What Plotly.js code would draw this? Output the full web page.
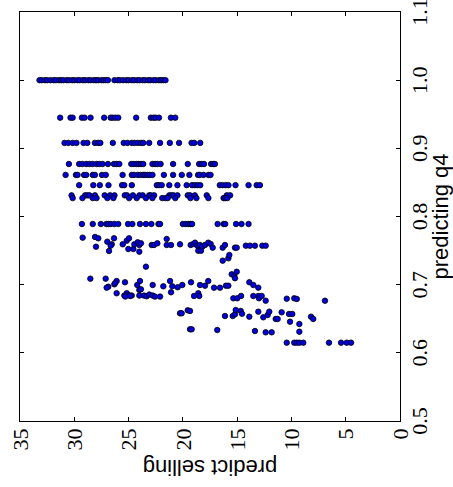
<!DOCTYPE html>
<html>
<head>
<meta charset="utf-8">
<script src="https://cdn.plot.ly/plotly-3.0.1.min.js"></script>
<style>
  html, body { margin: 0; padding: 0; overflow: hidden; background: #fff; width: 453px; height: 487px; }
  #wrap { position: absolute; left: 0; top: 0; width: 487px; height: 453px;
          transform-origin: 0 0; transform: translate(0px, 487px) rotate(-90deg); }
</style>
</head>
<body>
<div id="wrap"><div id="chart" style="width:487px;height:453px;"></div></div>
<script>
// Discrete q4 levels and the "predict selling" values read on each level
const q4Levels = [1.0, 0.945, 0.908, 0.877, 0.861, 0.846, 0.831, 0.827, 0.789];
const selling100 = [33.2, 33.0, 32.7, 32.5, 32.2, 31.9, 31.7, 31.4, 31.2, 31.0, 30.7, 30.5, 30.2, 30.0, 29.7, 29.5, 29.2, 29.0, 28.7, 28.5, 28.2, 28.0, 27.8, 27.5, 27.3, 27.1, 26.9,
                    26.3, 26.0, 25.8, 25.5, 25.2, 25.0, 24.7, 24.5, 24.2, 24.0, 23.7, 23.5, 23.2, 23.0, 22.7, 22.5, 22.2, 22.0, 21.8, 21.6];
const selling0945 = [31.3, 30.35, 30.15, 29.3, 29.05, 28.5, 27.25, 26.65, 26.45, 26.2, 25.95, 24.3, 22.95, 22.7, 22.5, 22.2, 21.1, 20.7];
const selling0908 = [30.9, 30.55, 30.15, 29.8, 29.15, 28.8, 28.1, 27.8, 27.6, 26.45, 25.45, 25.1, 24.7, 24.45, 24.15, 23.85, 23.65, 23.1, 22.1, 21.2, 20.35, 19.2, 18.95, 18.4];
const selling0877 = [30.5, 29.55, 29.25, 28.9, 28.6, 28.3, 27.95, 27.7, 27.4, 26.9, 26.35, 26.1, 25.85, 24.75, 24.5, 24.25, 24.05, 23.85, 23.65, 22.8, 22.55, 22.35, 22.05, 20.9, 19.55, 18.5, 18.25, 18.05, 17.4, 17.2, 17.05];
const selling0861 = [30.8, 29.85, 29.7, 29.1, 28.9, 28.3, 28.1, 27.45, 27.1, 25.55, 24.7, 24.5, 24.15, 23.9, 23.65, 23.5, 23.25, 23.05, 22.8, 21.75, 20.9, 20.1, 19.4, 18.6, 18.45, 18.1, 17.65, 17.45];
const selling0846 = [29.55, 28.25, 27.65, 26.85, 25.6, 25.4, 24.7, 22.4, 22.2, 21.95, 21.25, 20.5, 19.65, 19.15, 18.9, 18.65, 18.4, 16.6, 16.35, 16.05, 15.8, 15.15, 13.95, 13.2, 12.9];
const selling0831 = [30.25, 29.0, 28.8, 28.6, 28.1, 27.2, 26.7, 26.3, 25.35, 25.15, 24.6, 24.0, 23.7, 23.1, 22.95, 22.65, 21.25, 21.05, 20.85, 20.5, 19.55, 19.35, 18.9, 17.8, 15.95, 15.65];
const selling0827 = [30.15, 29.25, 28.3, 27.95, 26.95, 26.4, 24.95, 24.25, 23.4, 22.8, 21.9, 21.6, 21.4, 20.7, 19.3, 18.75, 17.65, 16.25, 16.1, 15.9];
const selling0789 = [29.3, 28.3, 27.55, 27.05, 26.85, 26.65, 26.3, 25.95, 25.05, 24.65, 23.95, 23.4, 22.9, 22.25, 22.1, 20.0, 19.75, 19.5, 19.3, 19.15, 16.8, 16.25, 16.1, 15.1, 14.6, 13.95];
const levelSelling = [selling100, selling0945, selling0908, selling0877, selling0861, selling0846, selling0831, selling0827, selling0789];

// Scattered points below 0.78 (q4, predict selling)
const scatterQ4 = [
  0.769, 0.770, 0.768, 0.7557, 0.763, 0.768, 0.7592, 0.7572, 0.7494, 0.7592, 0.7645, 0.768, 0.7523, 0.7523, 0.7592, 0.7622, 0.7582, 0.7607, 0.7484,
  0.7582, 0.7582, 0.7607, 0.767, 0.7582, 0.7582, 0.7592, 0.7582, 0.7597, 0.7616, 0.7572, 0.7582, 0.7498, 0.7498, 0.7557, 0.7582, 0.7616, 0.7597, 0.7543,
  0.7543, 0.7582, 0.7543, 0.7543, 0.7572, 0.7572, 0.7572, 0.7572, 0.7572,
  0.7264, 0.7352, 0.7387, 0.7435, 0.7152, 0.7132, 0.719, 0.7094,
  0.7088, 0.7088, 0.697, 0.6956, 0.7005, 0.7054, 0.702, 0.7035, 0.6874, 0.684, 0.6874, 0.685, 0.684, 0.6995, 0.7054, 0.6922, 0.684, 0.684, 0.6932,
  0.683, 0.6855, 0.6995, 0.684, 0.6825, 0.6825, 0.6976, 0.7054, 0.6888, 0.6976, 0.6962, 0.6995, 0.7035, 0.6834, 0.6874, 0.6834, 0.6995, 0.6985, 0.7054,
  0.6956, 0.6956, 0.6985, 0.6985, 0.68, 0.68, 0.6834, 0.7035, 0.6995, 0.6956, 0.6834, 0.6834, 0.68, 0.6834, 0.6765, 0.6794, 0.68, 0.679, 0.6765, 0.6834, 0.6825,
  0.658, 0.658, 0.6624, 0.6614, 0.654, 0.654, 0.6565, 0.6628, 0.6614, 0.6574, 0.653, 0.6604, 0.6521, 0.6555, 0.6604, 0.6497, 0.6497, 0.6595, 0.657, 0.657,
  0.6457, 0.6423, 0.653, 0.6497, 0.6345, 0.6345, 0.6335, 0.632, 0.6301, 0.6301, 0.631,
  0.6149, 0.6149, 0.6149, 0.6149, 0.6149, 0.6149, 0.6149, 0.6149, 0.6149
];
const scatterSelling = [
  29.23, 28.09, 27.79, 28.0, 26.96, 26.34, 26.55, 26.65, 26.8, 25.54, 25.17, 24.96, 25.02, 24.56, 24.47, 24.16, 24.01, 23.86, 24.01,
  22.87, 22.66, 22.35, 21.49, 21.49, 21.09, 20.26, 19.28, 19.04, 18.88, 18.67, 18.42, 18.58, 18.33, 18.21, 17.96, 17.66, 17.44, 17.25,
  16.33, 16.12, 15.2, 15.04, 14.2, 13.82, 13.36, 12.68, 12.37,
  23.4, 16.33, 15.81, 15.72, 15.5, 15.26, 15.04, 15.2,
  28.52, 27.11, 26.87, 27.02, 26.31, 26.1, 26.25, 25.33, 26.1, 25.39, 25.17, 25.02, 24.71, 24.2, 23.95, 24.01, 24.01, 23.58, 23.86,
  23.33, 23.09, 22.78, 22.78, 22.57, 22.1, 21.8, 21.18, 21.09, 20.97, 20.48, 20.05, 19.25, 18.97, 18.58, 18.49, 18.42, 17.96, 17.66,
  17.13, 16.58, 16.03, 15.81, 15.35, 14.99, 14.64, 13.88, 13.51, 13.05, 13.51, 13.05, 12.99, 12.74, 12.37, 10.43, 9.74, 9.51, 6.91, 24.85, 25.3,
  20.26, 20.11, 19.55, 19.34, 16.12, 15.41, 15.2, 15.13, 14.67, 14.55, 13.88, 13.05, 12.59, 12.19, 12.04, 11.45, 11.27, 10.9, 10.22, 9.92,
  10.13, 9.27, 8.2, 7.99, 19.34, 19.19, 16.83, 13.36, 12.37, 11.82, 9.27,
  10.43, 9.74, 9.51, 9.27, 8.91, 6.54, 5.43, 4.91, 4.51
];

const xTickVals = [0.5, 0.6, 0.7, 0.8, 0.9, 1.0, 1.1];
const xTickText = ['0.5', '0.6', '0.7', '0.8', '0.9', '1.0', '1.1'];
const yTickVals = [0, 5, 10, 15, 20, 25, 30, 35];
const yTickText = ['0', '5', '10', '15', '20', '25', '30', '35'];

const xs = [], ys = [];
q4Levels.forEach((lv, i) => { levelSelling[i].forEach(s => { xs.push(lv); ys.push(s); }); });
scatterQ4.forEach((q, i) => { xs.push(q); ys.push(scatterSelling[i]); });

const tickFont = { family: 'Liberation Serif, Times New Roman, serif', size: 22, color: '#000' };
const titleFont = { family: 'Liberation Sans, Arial, sans-serif', size: 22, color: '#000' };

const trace = {
  type: 'scatter', mode: 'markers', x: xs, y: ys,
  marker: { size: 5.5, color: 'rgb(0,0,225)', line: { color: '#000', width: 0.8 } },
  hoverinfo: 'none'
};

const layout = {
  width: 487, height: 453,
  margin: { l: 66, r: 12, t: 20, b: 53 },
  paper_bgcolor: '#fff', plot_bgcolor: '#fff',
  showlegend: false,
  xaxis: {
    range: [0.5, 1.1], tickvals: xTickVals, ticktext: xTickText,
    ticks: 'inside', ticklen: 4, tickcolor: '#000', mirror: 'ticks',
    showline: true, linecolor: '#000', linewidth: 1, showgrid: false, zeroline: false,
    tickfont: tickFont, automargin: false, ticklabeloverflow: 'allow',
    title: { text: 'predicting q4', font: titleFont, standoff: 3 }
  },
  yaxis: {
    range: [0, 35], tickvals: yTickVals, ticktext: yTickText,
    ticks: 'inside', ticklen: 4, tickcolor: '#000', mirror: 'ticks',
    showline: true, linecolor: '#000', linewidth: 1, showgrid: false, zeroline: false,
    tickfont: tickFont, automargin: false, ticklabeloverflow: 'allow', ticklabelstandoff: 2,
    title: { text: 'predict selling', font: titleFont, standoff: 2 }
  }
};

Plotly.newPlot('chart', [trace], layout, { staticPlot: true, displayModeBar: false });
</script>
</body>
</html>
